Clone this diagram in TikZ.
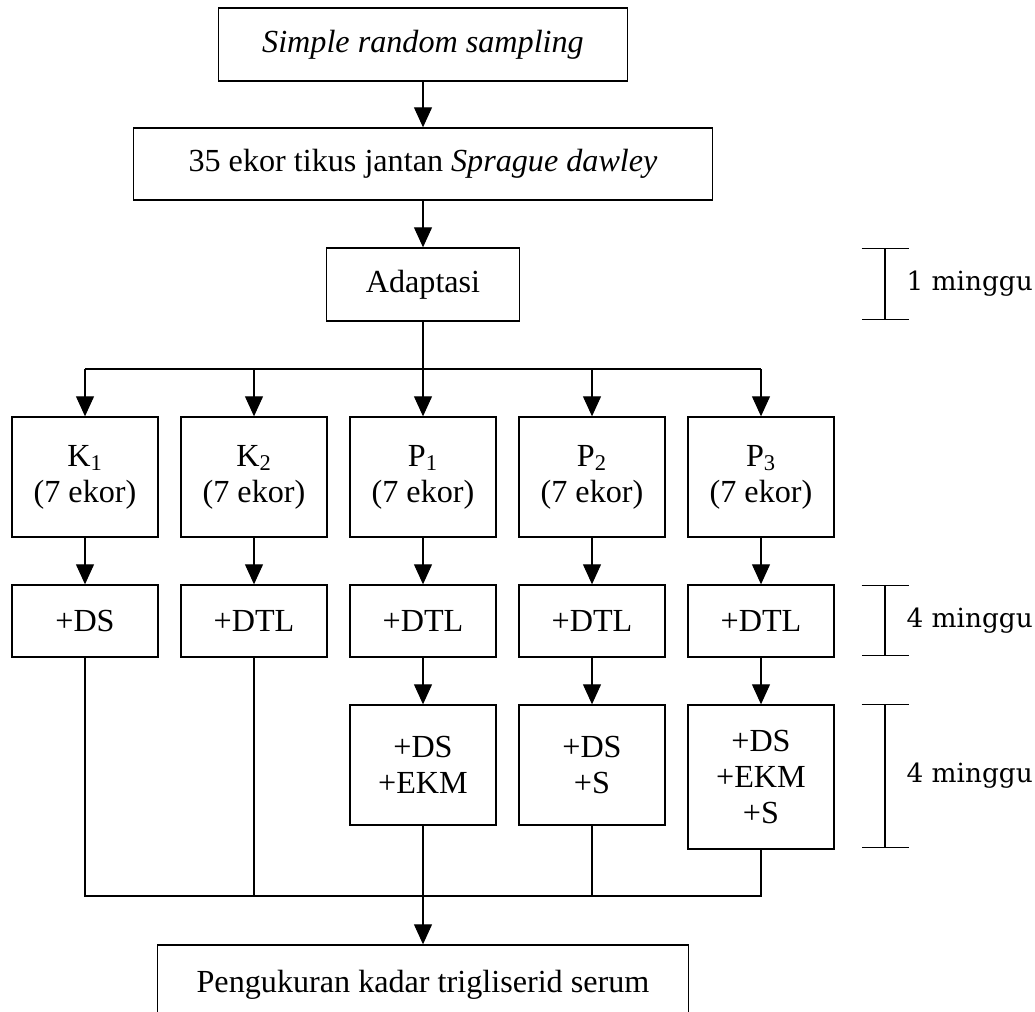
\documentclass[tikz,border=0pt]{standalone}
\usepackage{fontspec}
\setmainfont{Liberation Serif}
\newfontfamily\minggufont{DejaVu Serif}
\usetikzlibrary{arrows.meta, positioning}

\tikzset{
  box/.style={draw, line width=0.8pt, align=center, inner sep=0pt,
    font=\fontsize{18.3}{20.5}\selectfont},
  groupbox/.style={box, minimum width=2.92cm, minimum height=2.4cm},
  dietbox/.style={box, minimum width=2.92cm, minimum height=1.44cm},
  conn/.style={line width=0.6pt},
  arr/.style={conn, -{Triangle[length=0.4cm, width=0.36cm]}},
  period/.style={line width=0.6pt, {Bar[width=0.94cm]}-{Bar[width=0.94cm]}},
  periodlabel/.style={anchor=west, inner sep=0pt,
    font=\minggufont\fontsize{15}{18}\selectfont}
}

\begin{document}
\begin{tikzpicture}
  \useasboundingbox (0,0) rectangle (20.7,-20.22);

  % Main column
  \node[box, minimum width=8.18cm, minimum height=1.46cm] (sampling) at (8.46,-0.89) {\textit{Simple random sampling}};
  \node[box, minimum width=11.58cm, minimum height=1.44cm] (tikus) at (8.46,-3.28) {35 ekor tikus jantan \textit{Sprague dawley}};
  \node[box, minimum width=3.86cm, minimum height=1.46cm] (adaptasi) at (8.46,-5.69) {Adaptasi};

  % Groups
  \node[groupbox] (K1) at (1.70,-9.54) {K\textsubscript{1}\\(7 ekor)};
  \node[groupbox] (K2) at (5.08,-9.54) {K\textsubscript{2}\\(7 ekor)};
  \node[groupbox] (P1) at (8.46,-9.54) {P\textsubscript{1}\\(7 ekor)};
  \node[groupbox] (P2) at (11.84,-9.54) {P\textsubscript{2}\\(7 ekor)};
  \node[groupbox] (P3) at (15.22,-9.54) {P\textsubscript{3}\\(7 ekor)};

  % First treatment
  \node[dietbox] (dK1) at (1.70,-12.42) {+DS};
  \node[dietbox] (dK2) at (5.08,-12.42) {+DTL};
  \node[dietbox] (dP1) at (8.46,-12.42) {+DTL};
  \node[dietbox] (dP2) at (11.84,-12.42) {+DTL};
  \node[dietbox] (dP3) at (15.22,-12.42) {+DTL};

  % Second treatment
  \node[box, minimum width=2.92cm, minimum height=2.4cm] (tP1) at (8.46,-15.3) {+DS\\+EKM};
  \node[box, minimum width=2.92cm, minimum height=2.4cm] (tP2) at (11.84,-15.3) {+DS\\+S};
  \node[box, minimum width=2.92cm, minimum height=2.88cm] (tP3) at (15.22,-15.54) {+DS\\+EKM\\+S};

  % Result
  \node[box, minimum width=10.62cm, minimum height=1.6cm] (hasil) at (8.46,-19.7) {Pengukuran kadar trigliserid serum};

  % Connectors
  \coordinate (bus) at (8.46,-7.38);
  \coordinate (merge) at (8.46,-17.92);
  \draw[arr] (sampling) -- (tikus);
  \draw[arr] (tikus) -- (adaptasi);
  \draw[conn] (adaptasi) -- (bus);
  \draw[conn] (K1 |- bus) -- (P3 |- bus);
  \draw[arr] (K1 |- bus) -- (K1);
  \draw[arr] (K2 |- bus) -- (K2);
  \draw[arr] (bus) -- (P1);
  \draw[arr] (P2 |- bus) -- (P2);
  \draw[arr] (P3 |- bus) -- (P3);
  \draw[arr] (K1) -- (dK1);
  \draw[arr] (K2) -- (dK2);
  \draw[arr] (P1) -- (dP1);
  \draw[arr] (P2) -- (dP2);
  \draw[arr] (P3) -- (dP3);
  \draw[arr] (dP1) -- (tP1);
  \draw[arr] (dP2) -- (tP2);
  \draw[arr] (dP3) -- (tP3);
  \draw[conn] (dK1) -- (dK1 |- merge) -- (tP3 |- merge) -- (tP3);
  \draw[conn] (dK2) -- (dK2 |- merge);
  \draw[conn] (tP2) -- (tP2 |- merge);
  \draw[arr] (tP1) -- (hasil);

  % Durations
  \draw[period] (17.7,-4.96) -- (17.7,-6.40) node[midway, xshift=0.42cm, periodlabel] (w1) {1 minggu};
  \draw[period] (17.7,-11.70) -- (17.7,-13.12) node[midway, xshift=0.42cm, periodlabel] (w2) {4 minggu};
  \draw[period] (17.7,-14.08) -- (17.7,-16.96) node[midway, xshift=0.42cm, periodlabel] (w3) {4 minggu};
\end{tikzpicture}
\end{document}
